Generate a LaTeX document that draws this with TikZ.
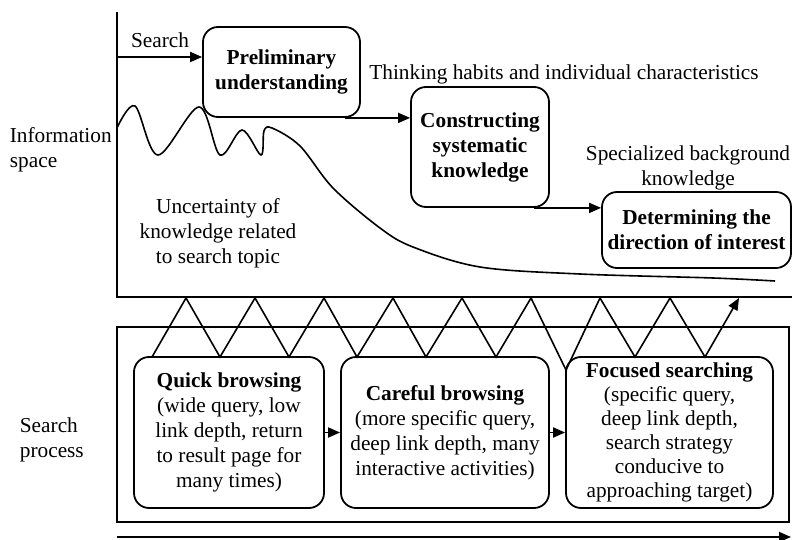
\documentclass[tikz,border=0pt]{standalone}
\usepackage{fontspec}
\setmainfont{Liberation Serif}
\usepackage{tikz}
\usetikzlibrary{arrows.meta}
\newcommand{\txtsize}{\fontsize{21.3}{25}\selectfont}

\begin{document}
\begin{tikzpicture}[x=1pt,y=-1pt,line width=1.8pt,
                    lbl/.style={font=\txtsize, inner sep=0pt, align=center},
                    stagebox/.style={draw, rounded corners=15pt, font=\txtsize,
                      inner sep=0pt, align=center},
                    arr/.style={-{Triangle[length=12pt,width=10pt]}}]
                                \useasboundingbox (0,0) rectangle (792,540);
                                % axes of the information space
                                \coordinate (ytop) at (117,12);
                                \coordinate (orig) at (117,297);
                                \coordinate (xend) at (795,297);
                                \coordinate (srch) at (117,57);
                                \draw (ytop) -- (orig) -- (xend);
                                \node[lbl, anchor=west, align=left] (infospace)
                                at (9,150) {Information\\space};
                                \node[lbl] (searchlbl) at (160,40) {Search};
                                % stages of knowledge
                                \node[stagebox, minimum width=157pt, minimum height=90pt]
                                (prelim) at (281.5,72) {\bfseries Preliminary\\\bfseries understanding};
                                \node[stagebox, minimum width=138pt, minimum height=120pt]
                                (cons) at (480,147) {\bfseries Constructing\\\bfseries systematic\\\bfseries knowledge};
                                \node[stagebox, minimum width=189pt, minimum height=76pt]
                                (det) at (696.5,230) {\bfseries Determining the\\\bfseries direction of interest};
                                \node[lbl] (habits) at (564,74)
                                {Thinking habits and individual characteristics};
                                \node[lbl] (backgr) at (688,168)
                                {Specialized background\\knowledge};
                                \node[lbl] (uncert) at (218,233)
                                {Uncertainty of\\knowledge related\\to search topic};
                                \draw[arr] (srch) -- (srch -| prelim.west);
                                \draw[arr] ([xshift=-16pt]prelim.south east)
                                -- (prelim.south -| cons.west);
                                \draw[arr] ([xshift=-16pt]cons.south east)
                                -- (cons.south -| det.west);
                                % uncertainty curve
                                \draw[line width=1.6pt] plot[smooth, tension=0.55] coordinates {
                                (117,128) (135,106) (158,155) (199,107) (220,155)
                                (242,130) (261,155) (264,131) (272,128) (300,146)
                                (333,188) (380,228) (413,247) (480,267) (580,274)
                                (713,278) (775,281)};
                                % search process
                                \draw (117,327) rectangle (789,522);
                                \node[lbl, anchor=west, align=left] (proc)
                                at (19,440) {Search\\process};
                                \node[stagebox, minimum width=190pt, minimum height=151pt]
                                (quick) at (229,432.5) {\textbf{Quick browsing}\\(wide query, low\\link depth, return\\to result page for\\many times)};
                                \node[stagebox, minimum width=208pt, minimum height=151pt]
                                (careful) at (445,432.5) {\textbf{Careful browsing}\\(more specific query,\\deep link depth, many\\interactive activities)};
                                \node[stagebox, minimum width=207pt, minimum height=151pt,
                                font=\fontsize{21.3}{24}\selectfont]
                                (focus) at (669.5,432.5) {\textbf{Focused searching}\\(specific query,\\deep link depth,\\search strategy\\conducive to\\approaching target)};
                                \draw[arr] (quick) -- (careful);
                                \draw[arr] (careful) -- (focus);
                                % back and forth between the two spaces
                                \draw[arr, line width=1.6pt] (152,357) -- (186,298) -- (220,357) -- (255,298)
                                -- (289,357) -- (324,298) -- (357,357) -- (393,298)
                                -- (426,357) -- (462,298) -- (496,357) -- (531,298)
                                -- (566,370) -- (600,298) -- (635,357) -- (670,298)
                                -- (705,357) -- (739,298);
                                \draw[arr] (117,537) -- (791,537);
                        \end{tikzpicture}
\end{document}
